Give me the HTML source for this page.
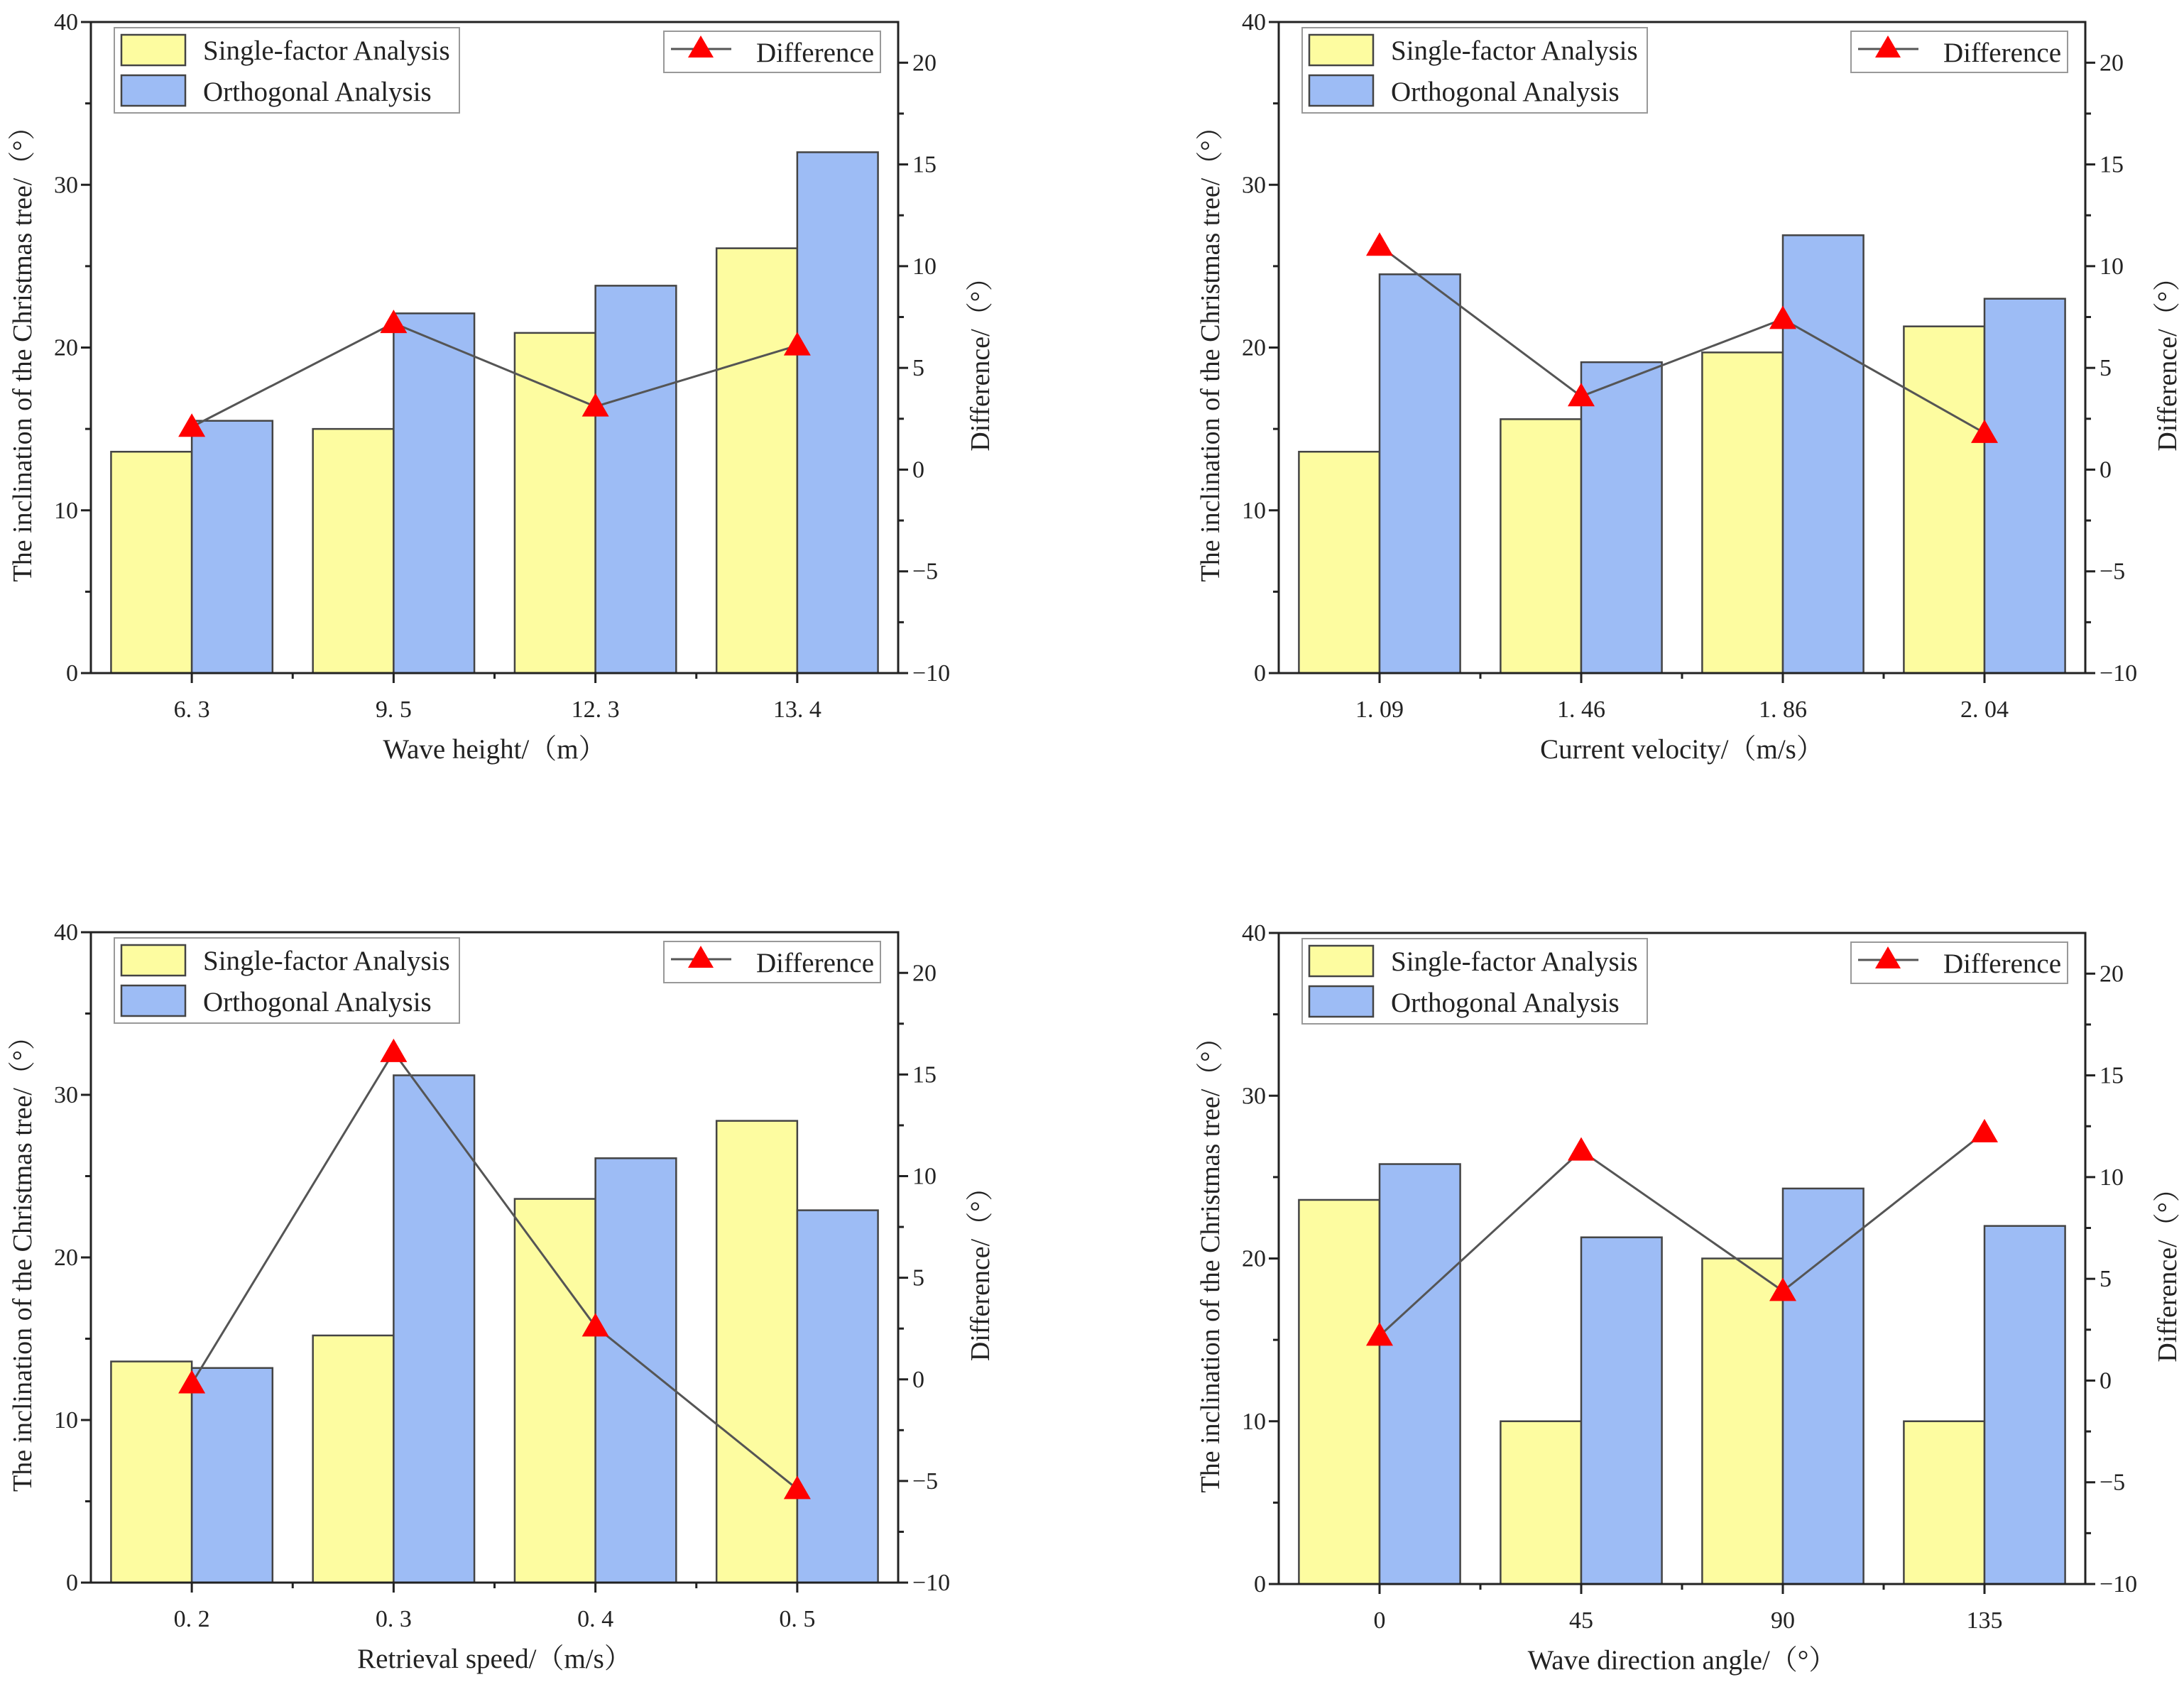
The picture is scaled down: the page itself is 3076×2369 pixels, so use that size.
<!DOCTYPE html>
<html><head><meta charset="utf-8"><style>html,body{margin:0;padding:0;background:#fff}svg{display:block}text{font-family:"Liberation Serif","Noto Serif CJK SC",serif;fill:#222}</style></head>
<body>
<svg id="chart" width="3076" height="2369" viewBox="0 0 3076 2369" xmlns="http://www.w3.org/2000/svg"></svg>
<script>
const catsA = ["6. 3","9. 5","12. 3","13. 4"];
const singleA = [13.6,15.0,20.9,26.1];
const orthoA = [15.5,22.1,23.8,32.0];
const diffA = [2.1,7.2,3.1,6.1];
const catsB = ["1. 09","1. 46","1. 86","2. 04"];
const singleB = [13.6,15.6,19.7,21.3];
const orthoB = [24.5,19.1,26.9,23.0];
const diffB = [11.0,3.6,7.4,1.8];
const catsC = ["0. 2","0. 3","0. 4","0. 5"];
const singleC = [13.6,15.2,23.6,28.4];
const orthoC = [13.2,31.2,26.1,22.9];
const diffC = [-0.2,16.1,2.6,-5.4];
const catsD = ["0","45","90","135"];
const singleD = [23.6,10.0,20.0,10.0];
const orthoD = [25.8,21.3,24.3,22.0];
const diffD = [2.2,11.3,4.4,12.2];
const leftTicks = [0,10,20,30,40];
const rightTicks = [-10,-5,0,5,10,15,20];
const xTitles = ["Wave height/（m）","Current velocity/（m/s）","Retrieval speed/（m/s）","Wave direction angle/（°）"];

const NS="http://www.w3.org/2000/svg";
const svg=document.getElementById('chart');
function mk(tag,attrs,parent,txt){const e=document.createElementNS(NS,tag);for(const k in attrs)e.setAttribute(k,attrs[k]);if(txt!==undefined)e.textContent=txt;(parent||svg).appendChild(e);return e;}

function panel(id,x0,y0,x1,y1,cats,single,ortho,diff,xt){
  const g=mk('g',{});
  
  
  const yL=v=>y1-(v-0)/(40-0)*(y1-y0);
  const yR=v=>y1-(v+10)/(22-(-10))*(y1-y0);
  const gw=(x1-x0)/cats.length;
  const xc=i=>x0+gw*(i+0.5);
  const bw=gw*0.4;
  cats.forEach((c,i)=>{
    const b1=mk('rect',{x:xc(i)-bw,y:yL(single[i]),width:bw,height:y1-yL(single[i]),fill:'#fdfca0',stroke:'#444','stroke-width':2.5},g);
    
    
    const b2=mk('rect',{x:xc(i),y:yL(ortho[i]),width:bw,height:y1-yL(ortho[i]),fill:'#9dbcf5',stroke:'#444','stroke-width':2.5},g);
    
    
  });
  const pts=diff.map((d,i)=>xc(i)+','+yR(d)).join(' ');
  const ln=mk('polyline',{points:pts,fill:'none',stroke:'#555','stroke-width':3},g);
  
  
  diff.forEach((d,i)=>{
    const cx=xc(i),cy=yR(d);
    const t=mk('polygon',{points:`${cx},${cy-19} ${cx-19},${cy+14} ${cx+19},${cy+14}`,fill:'#ff0000'},g);
    
    
  });
  const fr=mk('rect',{x:x0,y:y0,width:x1-x0,height:y1-y0,fill:'none',stroke:'#222','stroke-width':3},g);
  
  
  for(let v=0;v<=40;v+=5){const yy=yL(v);mk('line',{x1:x0,x2:x0-(v%10===0?14:8),y1:yy,y2:yy,stroke:'#222','stroke-width':3},g);}
  leftTicks.forEach(v=>{const t=mk('text',{x:x0-18,y:yL(v)+11,'text-anchor':'end','font-size':34},g,String(v));
    });
  for(let v=-10;v<=20;v+=2.5){const yy=yR(v);mk('line',{x1:x1,x2:x1+(v%5===0?14:8),y1:yy,y2:yy,stroke:'#222','stroke-width':3},g);}
  rightTicks.forEach(v=>{const t=mk('text',{x:x1+20,y:yR(v)+11,'text-anchor':'start','font-size':34},g,v<0?'−'+Math.abs(v):String(v));
    });
  cats.forEach((c,i)=>{mk('line',{x1:xc(i),x2:xc(i),y1:y1,y2:y1+14,stroke:'#222','stroke-width':3},g);
    if(i>0)mk('line',{x1:x0+gw*i,x2:x0+gw*i,y1:y1,y2:y1+8,stroke:'#222','stroke-width':3},g);
    const t=mk('text',{x:xc(i),y:y1+62,'text-anchor':'middle','font-size':34},g,c);
    });
  const xtl=mk('text',{x:(x0+x1)/2,y:y1+120,'text-anchor':'middle','font-size':39},g,xt);
  
  const ymid=(y0+y1)/2;
  const ytl=mk('text',{x:0,y:0,'text-anchor':'middle','font-size':38,transform:`translate(${x0-84},${ymid}) rotate(-90)`},g,'The inclination of the Christmas tree/（°）');
  
  const ytr=mk('text',{x:0,y:0,'text-anchor':'middle','font-size':38,transform:`translate(${x1+128},${yR(5.5)}) rotate(-90)`},g,'Difference/（°）');
  
  const lx=x0+33, ly=y0+8;
  const lg=mk('g',{},g);
  mk('rect',{x:lx,y:ly,width:486,height:120,fill:'#fff',stroke:'#999','stroke-width':2},lg);
  mk('rect',{x:lx+10,y:ly+10,width:90,height:43,fill:'#fdfca0',stroke:'#444','stroke-width':2.5},lg);
  mk('rect',{x:lx+10,y:ly+67,width:90,height:43,fill:'#9dbcf5',stroke:'#444','stroke-width':2.5},lg);
  mk('text',{x:lx+125,y:ly+45,'font-size':39},lg,'Single-factor Analysis');
  mk('text',{x:lx+125,y:ly+103,'font-size':39},lg,'Orthogonal Analysis');
  const rx=x1-330, ry=y0+13;
  const rg=mk('g',{},g);
  mk('rect',{x:rx,y:ry,width:305,height:58,fill:'#fff',stroke:'#999','stroke-width':2},rg);
  mk('line',{x1:rx+10,x2:rx+95,y1:ry+25,y2:ry+25,stroke:'#555','stroke-width':3},rg);
  mk('polygon',{points:`${rx+52},${ry+6} ${rx+34},${ry+37} ${rx+70},${ry+37}`,fill:'#ff0000'},rg);
  mk('text',{x:rx+130,y:ry+43,'font-size':39},rg,'Difference');
}
panel('wave-height',128,31,1265,948,catsA,singleA,orthoA,diffA,xTitles[0]);
panel('current-velocity',1801,31,2937,948,catsB,singleB,orthoB,diffB,xTitles[1]);
panel('retrieval-speed',128,1313,1265,2229,catsC,singleC,orthoC,diffC,xTitles[2]);
panel('wave-direction',1801,1314,2937,2231,catsD,singleD,orthoD,diffD,xTitles[3]);
</script>
</body></html>
